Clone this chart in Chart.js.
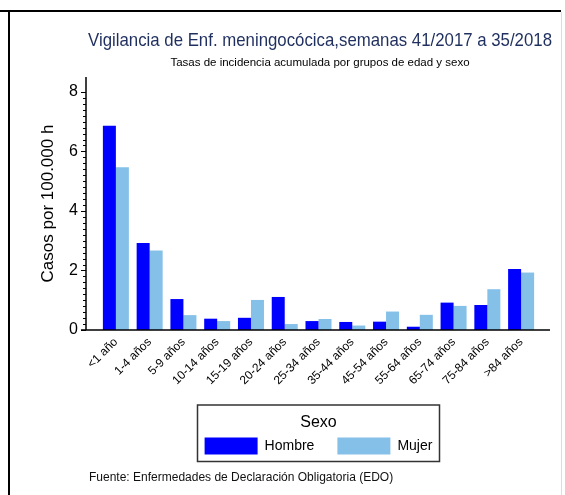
<!DOCTYPE html>
<html>
<head>
<meta charset="utf-8">
<script src="https://cdn.jsdelivr.net/npm/chart.js@4.4.1/dist/chart.umd.min.js"></script>
<style>
  body { margin: 0; background: #fff; }
</style>
</head>
<body>
<canvas id="chart" width="565" height="495"></canvas>
<script>
// Grupos de edad
const grupos = ["<1 año", "1-4 años", "5-9 años", "10-14 años", "15-19 años", "20-24 años",
  "25-34 años", "35-44 años", "45-54 años", "55-64 años", "65-74 años", "75-84 años", ">84 años"];

// Tasas por 100.000 h
const hombre = [6.86, 2.92, 1.04, 0.38, 0.41, 1.11, 0.30, 0.27, 0.28, 0.11, 0.92, 0.84, 2.05];
const mujer = [5.47, 2.67, 0.50, 0.30, 1.01, 0.20, 0.37, 0.15, 0.62, 0.51, 0.81, 1.37, 1.93];

const yTicks = [0, 2, 4, 6, 8];

const titulo = "Vigilancia de Enf. meningocócica,semanas 41/2017 a 35/2018";
const subtitulo = "Tasas de incidencia acumulada por grupos de edad y sexo";
const fuente = "Fuente: Enfermedades de Declaración Obligatoria (EDO)";

Chart.defaults.font.family = "'Liberation Sans', Arial, sans-serif";
Chart.defaults.color = "#000";

// Axis lines, minor ticks, legend frame, footer and page frame
const extras = {
  id: "extras",
  afterDraw(chart) {
    const ctx = chart.ctx;
    const area = chart.chartArea;
    const y = chart.scales.y;
    const axisX = area.left - 13;

    ctx.save();
    ctx.strokeStyle = "#000";
    ctx.lineWidth = 1.5;
    ctx.beginPath();
    ctx.moveTo(axisX, area.top);
    ctx.lineTo(axisX, area.bottom);
    ctx.moveTo(axisX - 5, area.bottom);
    ctx.lineTo(area.right + 12, area.bottom);
    ctx.stroke();

    ctx.lineWidth = 1;
    ctx.beginPath();
    for (let i = 0; i <= 40; i++) {
      const py = Math.round(y.getPixelForValue(i * 0.2)) + 0.5;
      const len = i % 10 === 0 ? 5 : 3;
      ctx.moveTo(axisX - len, py);
      ctx.lineTo(axisX, py);
    }
    ctx.stroke();

    // legend frame
    const lg = chart.legend;
    const cx = (lg.left + lg.right) / 2;
    ctx.strokeStyle = "#333";
    ctx.lineWidth = 1.5;
    ctx.strokeRect(cx - 121, lg.top - 10, 242, lg.bottom - lg.top + 7);

    // footer
    ctx.fillStyle = "#111";
    ctx.font = "12px 'Liberation Sans', Arial, sans-serif";
    ctx.textBaseline = "middle";
    ctx.fillText(fuente, 89, 478);

    // page frame
    ctx.strokeStyle = "#000";
    ctx.lineWidth = 2;
    ctx.beginPath();
    ctx.moveTo(0, 11);
    ctx.lineTo(561, 11);
    ctx.moveTo(9, 11);
    ctx.lineTo(9, 495);
    ctx.stroke();
    ctx.strokeStyle = "#ddd";
    ctx.lineWidth = 1;
    ctx.beginPath();
    ctx.moveTo(561.5, 12);
    ctx.lineTo(561.5, 495);
    ctx.stroke();
    ctx.restore();
  }
};

new Chart(document.getElementById("chart"), {
  type: "bar",
  data: {
    labels: grupos,
    datasets: [
      { label: "Hombre", data: hombre, backgroundColor: "#0000ff", borderWidth: 0 },
      { label: "Mujer", data: mujer, backgroundColor: "#85c0e9", borderWidth: 0 }
    ]
  },
  options: {
    responsive: false,
    animation: false,
    categoryPercentage: 0.77,
    barPercentage: 1.0,
    layout: { padding: { top: 20, left: 88, right: 13, bottom: 30.5 } },
    scales: {
      x: {
        grid: { display: false, drawTicks: false },
        border: { display: false },
        ticks: { minRotation: 45, maxRotation: 45, padding: 5, font: { size: 12 } },
        afterFit: (scale) => { scale.height = 85; }
      },
      y: {
        min: 0,
        max: 8.5,
        grid: { display: false, drawTicks: false },
        border: { display: false },
        // mirrored with a negative padding so the labels sit left of the narrow axis box
        ticks: { stepSize: 2, mirror: true, padding: -30, crossAlign: "near", font: { size: 16 } },
        afterBuildTicks: (scale) => {
          scale.ticks = yTicks.map(v => ({ value: v }));
        },
        afterFit: (scale) => { scale.width = 11; },
        title: {
          display: true,
          text: "Casos por 100.000 h",
          font: { size: 17 },
          padding: { top: -50.2, bottom: 0 }
        }
      },
      // empty spacer on the right so the title can span the full frame
      yr: {
        type: "linear",
        position: "right",
        display: true,
        grid: { display: false },
        border: { display: false },
        ticks: { display: false },
        afterFit: (scale) => { scale.width = 14; }
      }
    },
    plugins: {
      title: {
        display: true,
        text: titulo,
        color: "#1f2f5f",
        font: { size: 19, weight: "normal" },
        padding: { top: 9.6, bottom: 0 }
      },
      subtitle: {
        display: true,
        text: subtitulo,
        color: "#000",
        font: { size: 11.5 },
        padding: { top: 3.7, bottom: 7.1 }
      },
      legend: {
        position: "bottom",
        fullSize: false,
        title: {
          display: true,
          text: "Sexo",
          font: { size: 16 },
          padding: { top: 0, bottom: -19.7 }
        },
        labels: {
          boxWidth: 53,
          boxHeight: 17,
          padding: 23,
          font: { size: 14 }
        }
      },
      tooltip: { enabled: false }
    }
  },
  plugins: [extras]
});
</script>
</body>
</html>
